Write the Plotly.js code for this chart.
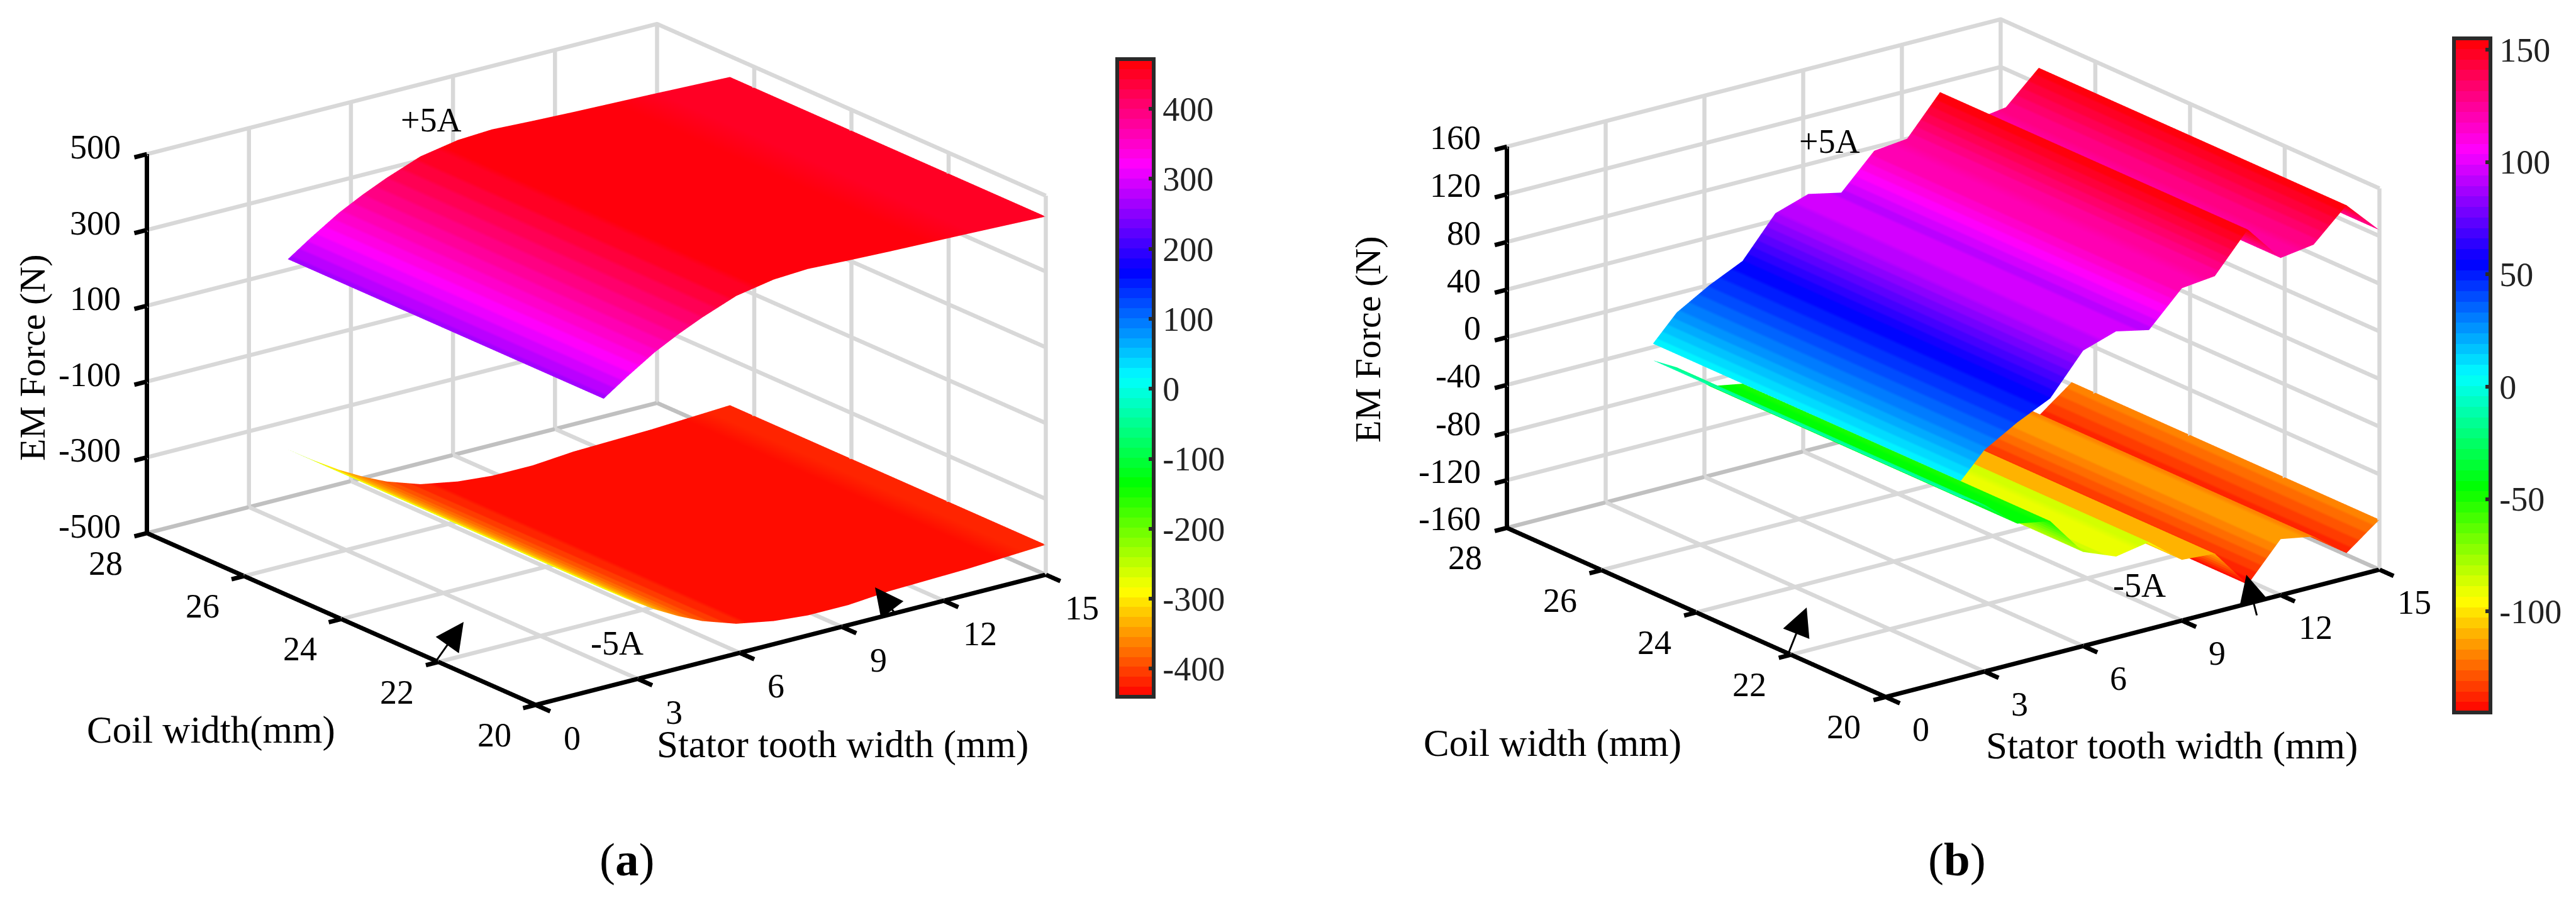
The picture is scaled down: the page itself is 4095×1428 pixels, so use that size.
<!DOCTYPE html>
<html><head><meta charset="utf-8">
<script src="https://cdn.plot.ly/plotly-3.0.1.min.js"></script>
<style>html,body{margin:0;padding:0;background:#fff}</style></head>
<body><div id="plot" style="width:4095px;height:1428px"></div>
<script>
// ---------- data ----------
const toothTicks = [0,3,6,9,12,15];
const coilTicks  = [20,22,24,26,28];
const coilWidths = [20,22,24,26.5];

const zTicksA = [-500,-300,-100,100,300,500];
const toothA  = [2,2.67,3.5,4.2,4.9,5.9,7,8,9.2,10.4,12.7,15];
const plusA   = [262,303,350,382,410,444,462,467,462,458,452,445];
const minusA  = [-240,-281,-328,-362,-391,-421,-439,-447,-447,-438,-432,-421];
const barValsA = [-400,-300,-200,-100,0,100,200,300,400];

const zTicksB = [-160,-120,-80,-40,0,40,80,120,160];
const toothB  = [2.28,3,4,5,6,7,8,9,10,11,12,13,14,15];
const plusB   = [5,26,42,55,88,97,91,119,122,154,123,127,153,125];
const minusB  = [-9,-20,-43,-48,-81,-92,-87,-109,-111,-144,-113,-118,-139,-118];
const barValsB = [-100,-50,0,50,100,150];

const FONT = 'Liberation Serif';
const W = 4095, H = 1428;

// 64-level HSV colormap
const hsvAnchors = [[255,0,0],[255,255,0],[0,255,0],[0,255,255],[0,0,255],[255,0,255],[255,0,0]];
function hsvStops(n){
  const s=[];
  for(let i=0;i<n;i++){
    const f=(i+0.5)/n*6, k=Math.min(5,Math.floor(f)), u=f-k;
    const a=hsvAnchors[k], b=hsvAnchors[k+1];
    const c=`rgb(${a.map((v,j)=>Math.round(v+(b[j]-v)*u)).join(',')})`;
    s.push([i/n,c]); s.push([(i+1)/n,c]);
  }
  return s;
}
const CS = hsvStops(64);

function rows(vals){ return coilWidths.map(()=>vals); }

function lineTrace(sc,seg,color,width){
  return {scene:sc,type:'scatter3d',mode:'lines',hoverinfo:'skip',showlegend:false,line:{color,width},
    x:seg.map(p=>p[0]),y:seg.map(p=>p[1]),z:seg.map(p=>p[2])};
}

function panel(o){
  const sc=o.scene, t0=0,t1=15,c0=20,c1=28, zT=o.zTicks, z0=zT[0], z1=zT[zT.length-1];
  const traces=[];
  const common={scene:sc,type:'surface',x:o.tooth,y:coilWidths,cauto:false,cmin:o.cmin,cmax:o.cmax,colorscale:CS,
    hoverinfo:'skip',lighting:{ambient:1,diffuse:0,specular:0,roughness:1,fresnel:0}};
  traces.push(Object.assign({},common,{z:rows(o.minus),showscale:false,name:'-5A'}));
  traces.push(Object.assign({},common,{z:rows(o.plus),name:'+5A',showscale:true,colorbar:{
    thicknessmode:'pixels',thickness:o.bar.x1-o.bar.x0-6,lenmode:'pixels',len:o.bar.y1-o.bar.y0-6,
    x:(o.bar.x0+3)/W,xanchor:'left',y:1-(o.bar.y1-3)/H,yanchor:'bottom',xref:'paper',yref:'paper',xpad:0,ypad:0,
    outlinewidth:6,outlinecolor:'#2a2a2a',borderwidth:0,tickmode:'array',tickvals:o.barVals,ticktext:o.barVals.map(String),
    ticks:'inside',ticklen:11,tickwidth:6,tickcolor:'#2a2a2a',tickfont:{family:FONT,size:54,color:'#222'}}}));
  const GW=13, AW=14;
  // grid lines, leaving out those that coincide with the black axes
  toothTicks.filter(t=>t!==t0).forEach(t=>{traces.push(lineTrace(sc,[[t,c0,z0],[t,c1,z0],[t,c1,z1]],'#d8d8d8',GW));});
  coilTicks.filter(c=>c!==c0).forEach(c=>{traces.push(lineTrace(sc,[[t0,c,z0],[t1,c,z0],[t1,c,z1]],'#d8d8d8',GW));});
  zT.filter(z=>z!==z0).forEach(z=>{traces.push(lineTrace(sc,[[t0,c1,z],[t1,c1,z],[t1,c0,z]],'#d8d8d8',GW));});
  traces.push(lineTrace(sc,[[t1,c0,z0],[t1,c0,z1]],'#d8d8d8',GW));
  traces.push(lineTrace(sc,[[t0,c1,z0],[t1,c1,z0],[t1,c0,z0]],'#c0c0c0',GW));
  traces.push(lineTrace(sc,toothTicks.map(t=>[t,c0,z0]),'#000',AW));
  traces.push(lineTrace(sc,coilTicks.map(c=>[t0,c,z0]),'#000',AW));
  traces.push(lineTrace(sc,zT.map(z=>[t0,c1,z]),'#000',AW));
  toothTicks.forEach(t=>traces.push(lineTrace(sc,[[t,c0,z0],[t,c0-0.3,z0]],'#000',AW)));
  coilTicks.forEach(c=>traces.push(lineTrace(sc,[[t0,c,z0],[t0-0.37,c,z0]],'#000',AW)));
  zT.forEach(z=>traces.push(lineTrace(sc,[[t0,c1,z],[t0-0.37,c1,z]],'#000',AW)));

  const lab=(x,y,z,text,xs,ys,anchor)=>({x,y,z,text:String(text),showarrow:false,xshift:xs,yshift:ys,xanchor:anchor||'center',yanchor:'middle',
    font:{family:FONT,size:54,color:'#000'}});
  const ann=[];
  toothTicks.forEach(t=>ann.push(lab(t,c0,z0,t,o.off.t[0],o.off.t[1])));
  coilTicks.forEach(c=>ann.push(lab(t0,c,z0,c,o.off.c[0],o.off.c[1])));
  zT.forEach(z=>ann.push(lab(t0,c1,z,z,o.off.z[0],o.off.z[1],'right')));

  const pad={t:1,c:1};
  const ax=n=>({visible:true,showgrid:false,zeroline:false,showline:false,ticks:'',showticklabels:false,showbackground:false,showspikes:false,title:{text:''}});
  const zp=(z1-z0)*0.1;
  const sceneLayout={
    domain:{x:[o.center[0]/W-o.hw/W,o.center[0]/W+o.hw/W],y:[1-2*o.center[1]/H,1]},
    xaxis:Object.assign(ax(),{range:[t0-pad.t,t1+pad.t],tickvals:toothTicks}),
    yaxis:Object.assign(ax(),{range:[c0-pad.c,c1+pad.c],tickvals:coilTicks}),
    zaxis:Object.assign(ax(),{range:[z0-zp,z1+zp],tickvals:zT}),
    aspectmode:'manual',
    aspectratio:o.aspect,
    camera:{projection:{type:'orthographic'},up:{x:0,y:0,z:1},center:{x:0,y:0,z:0},eye:o.eye},
    annotations:ann,
    bgcolor:'#fff'
  };
  return {traces,sceneLayout};
}

const A=panel({scene:'scene',tooth:toothA,plus:plusA,minus:minusA,zTicks:zTicksA,cmin:-440,cmax:471,barVals:barValsA,
  bar:{x0:1773,x1:1837,y0:91,y1:1111},center:[948,579.5],hw:840,
  off:{t:[58,-53],c:[-66,-48],z:[-40,11]},
  aspect:{x:1.992,y:2.203,z:1.325},eye:{x:-1.14,y:-1.5,z:0.672}});
const B=panel({scene:'scene2',tooth:toothB,plus:plusB,minus:minusB,zTicks:zTicksB,cmin:-145,cmax:155,barVals:barValsB,
  bar:{x0:3898,x1:3962,y0:58,y1:1136},center:[3088.5,569.5],hw:800,
  off:{t:[56,-52],c:[-66,-48],z:[-39,14]},
  aspect:{x:1.962,y:2.184,z:1.358},eye:{x:-1.14,y:-1.5,z:0.68}});

const note=(x,y,text,size,extra)=>Object.assign({xref:'paper',yref:'paper',x:x/W,y:1-y/H,text,showarrow:false,xanchor:'center',yanchor:'middle',
  font:{family:FONT,size:size||54,color:'#000'}},extra||{});
const arrow=(tx,ty,fx,fy)=>({xref:'paper',yref:'paper',x:tx/W,y:1-ty/H,axref:'pixel',ayref:'pixel',ax:fx-tx,ay:fy-ty,text:'',showarrow:true,
  arrowhead:2,arrowsize:3,arrowwidth:3,arrowcolor:'#000',standoff:0,startstandoff:0});

const annotations=[
  note(51,569,'EM Force (N)',58,{textangle:-90}),
  note(335,1161,'Coil width(mm)',61),
  note(1339,1184,'Stator tooth width (mm)',61),
  note(685,191,'+5A'),
  note(981,1023,'-5A'),
  note(996,1366,'(<b>a</b>)',75),
  arrow(737,989,694,1050),
  arrow(1391,934,1424,977),

  note(2174,540,'EM Force (N)',58,{textangle:-90}),
  note(2468,1182,'Coil width (mm)',61),
  note(3452,1186,'Stator tooth width (mm)',61),
  note(2908,225,'+5A'),
  note(3401,931,'-5A'),
  note(3111,1366,'(<b>b</b>)',75),
  arrow(2872,966,2841,1044),
  arrow(3571,914,3588,980)
];

Plotly.newPlot('plot',A.traces.concat(B.traces),{
  width:W,height:H,margin:{l:0,r:0,t:0,b:0},paper_bgcolor:'#fff',showlegend:false,
  scene:A.sceneLayout,scene2:B.sceneLayout,annotations
},{displayModeBar:false,staticPlot:false});
</script></body></html>
